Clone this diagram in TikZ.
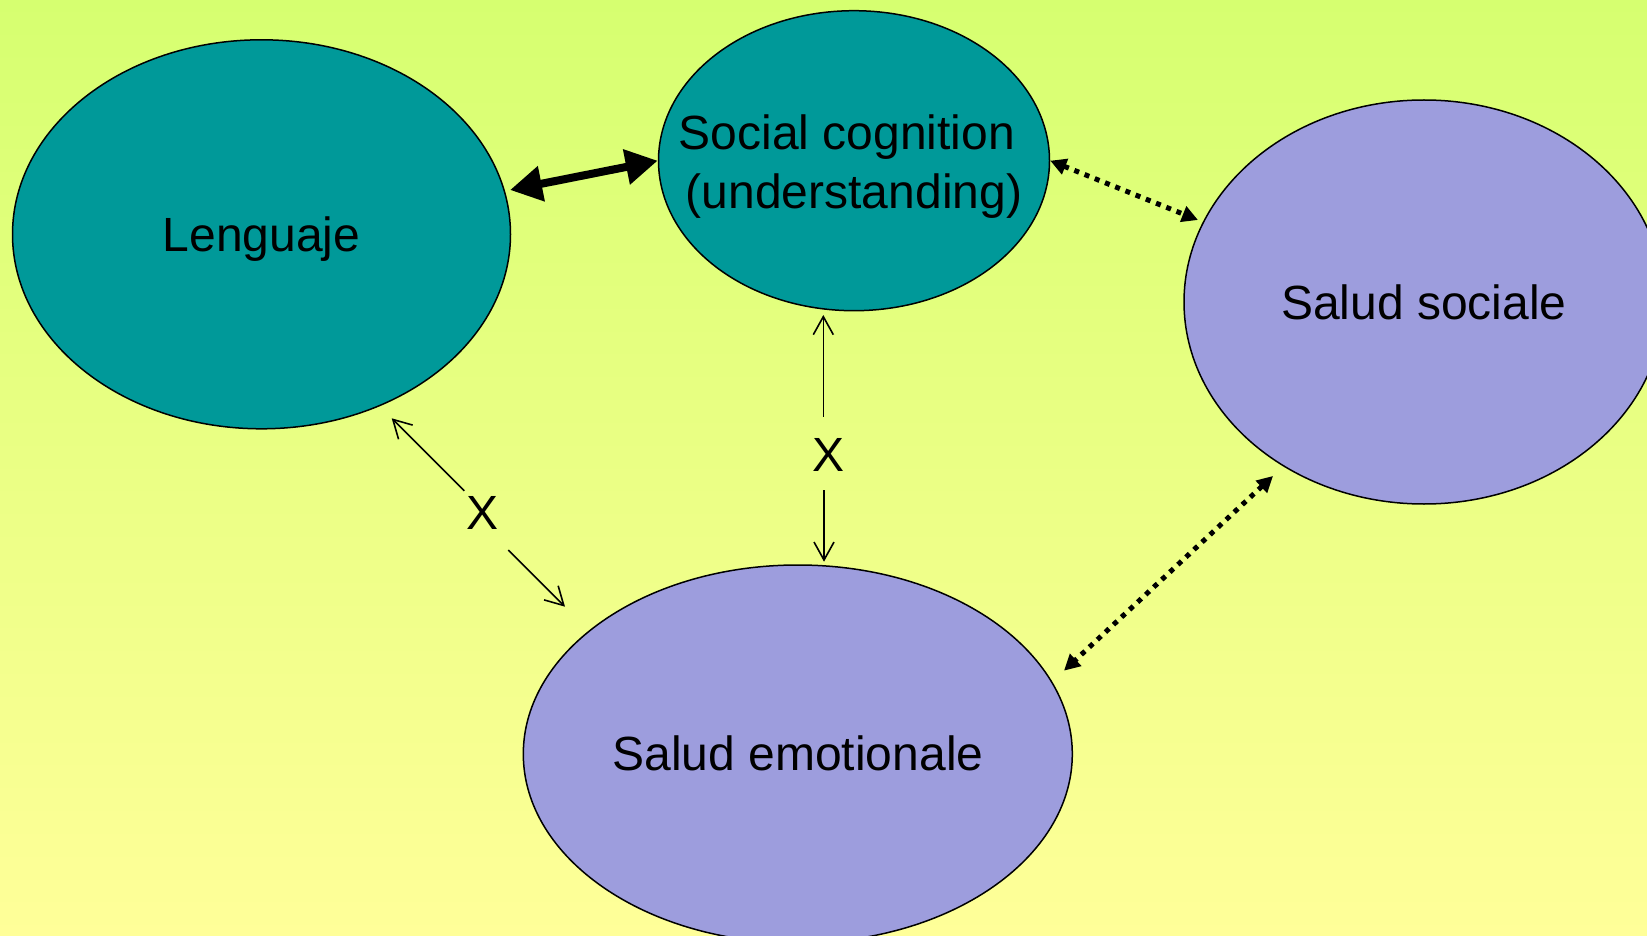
\documentclass[tikz,border=0pt]{standalone}
\usepackage{fontspec}
\setmainfont{Liberation Sans}
\usetikzlibrary{shapes.geometric,arrows.meta}
\definecolor{bgtop}{RGB}{214,255,112}
\definecolor{bgbot}{RGB}{255,255,153}
\definecolor{tealfill}{RGB}{0,153,153}
\definecolor{lavfill}{RGB}{157,157,221}
\tikzset{
  bubble/.style={ellipse, draw=black, line width=1.5pt, inner sep=0pt},
  tealbubble/.style={bubble, fill=tealfill},
  lavbubble/.style={bubble, fill=lavfill},
  txt/.style={font=\fontsize{48}{57}\selectfont, inner sep=0pt, anchor=base},
  xlabel/.style={font=\fontsize{48}{57}\selectfont, inner sep=0pt},
  thickarrow/.style={line width=8pt, {Triangle[length=32pt,width=34pt]}-{Triangle[length=32pt,width=34pt]}},
  dotarrow/.style={line width=5pt, dash pattern=on 5pt off 6pt,
    {Triangle[length=16pt,width=16pt]}-{Triangle[length=16pt,width=16pt]}},
  thinarrow/.style={line width=1.6pt, -{Straight Barb[length=18pt,width=20pt,line width=1.6pt]}}
}
\begin{document}
\begin{tikzpicture}[x=1pt,y=-1pt]
\useasboundingbox (0,0) rectangle (1647,936);
\shade[top color=bgtop, bottom color=bgbot] (0,0) rectangle (1647,936);
\clip (0,0) rectangle (1647,936);
% ellipses
\node[tealbubble, minimum width=498pt, minimum height=389pt] (len) at (261.5,234.3) {};
\node[tealbubble, minimum width=391pt, minimum height=300pt] (soc) at (854,160.7) {};
\node[lavbubble, minimum width=480pt, minimum height=404pt] (ss) at (1424,302) {};
\node[lavbubble, minimum width=549pt, minimum height=378pt] (se) at (797.8,754) {};
% texts
\node[txt] (lentxt) at (261.5,251.7) {Lenguaje};
\node[txt] (soctxta) at (847,150) {Social cognition};
\node[txt] (soctxtb) at (854,208.3) {(understanding)};
\node[txt] (sstxt) at (1424,319.3) {Salud sociale};
\node[txt] (setxt) at (798,770) {Salud emotionale};
% X labels
\node[xlabel] (x1) at (483,513) {X};
\node[xlabel] (x2) at (828,455) {X};
% free ends
\coordinate (t1) at (510,190);
\coordinate (d1) at (1198,220);
\coordinate (d2a) at (1273,476);
\coordinate (d2b) at (1064,670.7);
\coordinate (l1a) at (464.3,490.7);
\coordinate (l1b) at (391.7,418.3);
\coordinate (l2a) at (508.3,550);
\coordinate (l2b) at (565,606.7);
\coordinate (v1a) at (823.3,416.7);
\coordinate (v1b) at (823.3,315);
\coordinate (v2a) at (824,490);
\coordinate (v2b) at (824,561.7);
% connectors
\draw[thickarrow] (t1) -- (soc.west);
\draw[dotarrow] (soc.east) -- (d1);
\draw[dotarrow] (d2a) -- (d2b);
\draw[thinarrow] (l1a) -- (l1b);
\draw[thinarrow] (l2a) -- (l2b);
\draw[thinarrow] (v1a) -- (v1b);
\draw[thinarrow] (v2a) -- (v2b);
\end{tikzpicture}
\end{document}
